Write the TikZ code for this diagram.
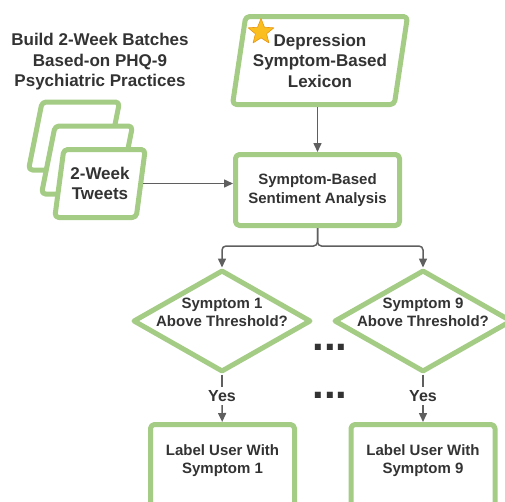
\documentclass[tikz,border=0pt]{standalone}
\usepackage{fontspec}
\setmainfont{Liberation Sans}
\usetikzlibrary{arrows.meta,positioning,calc,shapes.geometric}
\definecolor{green}{RGB}{164,204,132}
\definecolor{linegray}{RGB}{95,95,95}
\definecolor{textgray}{RGB}{51,51,51}
\definecolor{gold}{RGB}{250,190,30}
\definecolor{orange}{RGB}{232,150,20}

\begin{document}
\begin{tikzpicture}[x=1pt, y=-1pt, line join=round,
    every node/.style={align=center, text=textgray, font=\fontsize{15}{18.5}\selectfont\bfseries},
    big/.style={font=\fontsize{17}{20.5}\selectfont\bfseries},
    box/.style={draw=green, line width=5pt, rounded corners=4pt, fill=white},
    io/.style={trapezium, trapezium left angle=78, trapezium right angle=102, trapezium stretches=true,
      draw=green, line width=5pt, rounded corners=4pt, fill=white, inner sep=2pt},
    decision/.style={diamond, draw=green, line width=5pt, fill=white, inner sep=0pt,
      minimum width=178pt, minimum height=102pt},
    conn/.style={draw=linegray, line width=1.5pt, -{Triangle[length=9pt,width=8pt]}}]
  \useasboundingbox (0,0) rectangle (505,501);

  % tweet batches
  \node[big] (batchhead) at (100,62) {Build 2-Week Batches\\Based-on PHQ-9\\Psychiatric Practices};
  \node[io, minimum width=91pt, minimum height=68pt] (batch3) at (74,136) {};
  \node[io, minimum width=91pt, minimum height=68pt] (batch2) at (87,160) {};
  \node[io, big, minimum width=91pt, minimum height=68pt] (tweets) at (100,183.5) {2-Week\\Tweets};

  % lexicon and analysis
  \node[io, big, minimum width=175pt, minimum height=88pt] (lexicon) at (320,60.5) {Depression\\Symptom-Based\\Lexicon};
  \node[star, star points=5, star point ratio=2.3, fill=gold, draw=orange, line width=0.6pt,
    minimum size=27pt, inner sep=0pt] (star) at (261,32) {};
  \node[box, minimum width=164pt, minimum height=71pt] (sentiment) at (317.5,190) {Symptom-Based\\Sentiment Analysis};

  % symptom checks
  \node[decision] (sym1) at (222,321) {};
  \node (sym1txt) at (222,312.5) {Symptom 1\\Above Threshold?};
  \node[decision] (sym9) at (423,321) {};
  \node (sym9txt) at (423,312.5) {Symptom 9\\Above Threshold?};
  \node[font=\fontsize{42}{42}\selectfont\bfseries] (dotsup) at (330,347) {...};
  \node[font=\fontsize{42}{42}\selectfont\bfseries] (dotsdown) at (330,395) {...};

  \node[big, font=\fontsize{16}{19}\selectfont\bfseries] (yes1) at (222,396) {Yes};
  \node[big, font=\fontsize{16}{19}\selectfont\bfseries] (yes9) at (423,396) {Yes};
  \node[box, minimum width=144pt, minimum height=86pt, text depth=17pt] (label1) at (222.5,467.5) {Label User With\\Symptom 1};
  \node[box, minimum width=144pt, minimum height=86pt, text depth=17pt] (label9) at (423,467.5) {Label User With\\Symptom 9};

  \draw[conn] (sentiment.north |- lexicon.south) -- (sentiment.north);
  \draw[conn] (tweets.east) -- (tweets.east -| sentiment.west);
  \draw[conn, rounded corners=4pt] (sentiment.south) -- ++(0,18) -| (sym1.north);
  \draw[conn, rounded corners=4pt] (sentiment.south) -- ++(0,18) -| (sym9.north);
  \draw[linegray, line width=1.5pt] (sym1.south) -- (yes1);
  \draw[linegray, line width=1.5pt] (sym9.south) -- (yes9);
  \draw[conn] (yes1) -- (label1);
  \draw[conn] (yes9) -- (label9);
\end{tikzpicture}
\end{document}
